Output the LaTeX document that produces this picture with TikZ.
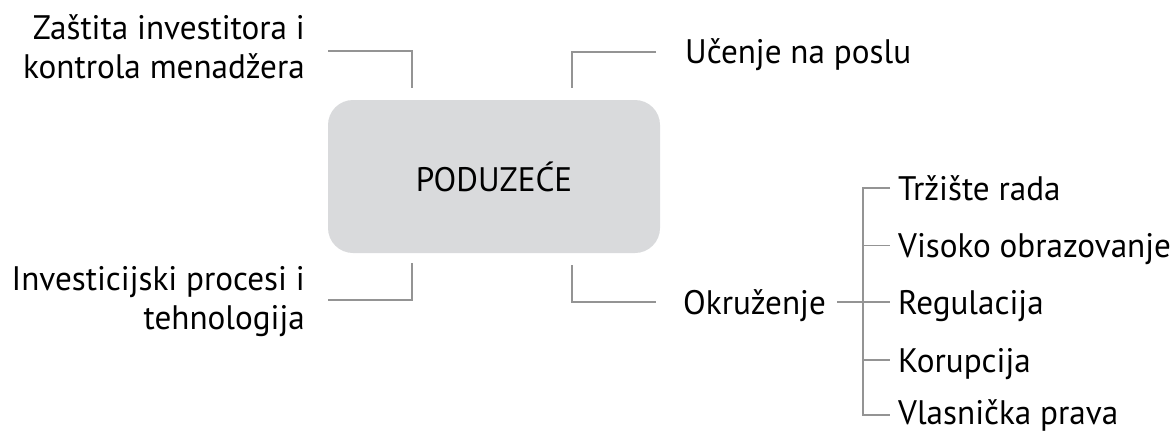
\documentclass[tikz,border=0pt]{standalone}
\usepackage{fontspec}
\setmainfont{PT Sans}[FakeStretch=0.975]
\begin{document}
\begin{tikzpicture}[x=1pt,y=-1pt,
  txt/.style={inner sep=0pt,font=\fontsize{34}{39}\selectfont},
  conn/.style={draw=black!42,line width=1.5pt},
  boxstyle/.style={fill=boxgray,rounded corners=25pt,minimum width=332pt,minimum height=153pt,inner sep=0pt,font=\fontsize{34}{39}\selectfont}]
\definecolor{boxgray}{HTML}{D9DADC}
\useasboundingbox (0,0) rectangle (1175,434);
% central box
\node[boxstyle] (box) at (494,176.5) {PODUZEĆE};
% left texts
\node[txt,align=right,anchor=north east] (zast) at (305,14) {Zaštita investitora i\\kontrola menadžera};
\node[txt,align=right,anchor=north east] (inv) at (305,266) {Investicijski procesi i\\tehnologija};
% right texts
\node[txt,anchor=base west] (uc) at (685,63) {Učenje na poslu};
\node[txt,anchor=base west] (okr) at (683,314) {Okruženje};
\node[txt,anchor=base west] (t1) at (898,200) {Tržište rada};
\node[txt,anchor=base west] (t2) at (898,257.5) {Visoko obrazovanje};
\node[txt,anchor=base west] (t3) at (898,314) {Regulacija};
\node[txt,anchor=base west] (t4) at (898,372) {Korupcija};
\node[txt,anchor=base west] (t5) at (898,424) {Vlasnička prava};
% bracket coordinates
\coordinate (a1) at (328,51); \coordinate (a2) at (412,51); \coordinate (a3) at (412,88);
\coordinate (b1) at (656,52); \coordinate (b2) at (572,52); \coordinate (b3) at (572,88);
\coordinate (c1) at (412,263); \coordinate (c2) at (412,300); \coordinate (c3) at (328,300);
\coordinate (d1) at (572,265); \coordinate (d2) at (572,302); \coordinate (d3) at (656,302);
\draw[conn] (a1) -- (a2) -- (a3);
\draw[conn] (b1) -- (b2) -- (b3);
\draw[conn] (c1) -- (c2) -- (c3);
\draw[conn] (d1) -- (d2) -- (d3);
% tree
\coordinate (o1) at (837,302);
\coordinate (tx) at (863,302);
\coordinate (tt) at (863,188);
\coordinate (tb) at (863,415);
\coordinate (e1) at (890,188);
\coordinate (e2) at (890,245.3);
\coordinate (e3) at (890,302);
\coordinate (e4) at (890,359.8);
\coordinate (e5) at (890,415);
\draw[conn] (o1) -- (tx);
\draw[conn] (e1) -- (tt) -- (tb) -- (e5);
\draw[conn] (e2 -| tt) -- (e2);
\draw[conn] (tx) -- (e3);
\draw[conn] (e4 -| tt) -- (e4);
\end{tikzpicture}
\end{document}
